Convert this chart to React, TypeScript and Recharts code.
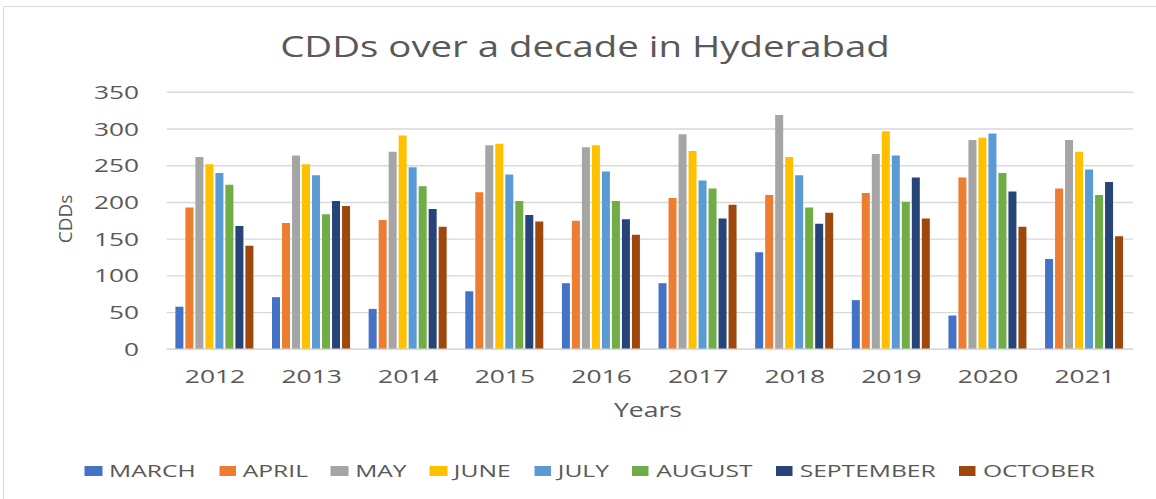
import React from 'react';
import { BarChart, Bar, XAxis, YAxis, CartesianGrid, Legend } from 'recharts';

const years = ['2012', '2013', '2014', '2015', '2016', '2017', '2018', '2019', '2020', '2021'];
const seriesNames = ['MARCH', 'APRIL', 'MAY', 'JUNE', 'JULY', 'AUGUST', 'SEPTEMBER', 'OCTOBER'];
const seriesColors = ['#4472C4', '#ED7D31', '#A5A5A5', '#FFC000', '#5B9BD5', '#70AD47', '#264478', '#9E480E'];

const march = [58, 71, 55, 79, 90, 90, 132, 67, 46, 123];
const april = [193, 172, 176, 214, 175, 206, 210, 213, 234, 219];
const may = [262, 264, 269, 278, 275, 293, 319, 266, 285, 285];
const june = [252, 252, 291, 280, 278, 270, 262, 297, 288, 269];
const july = [240, 237, 248, 238, 242, 230, 237, 264, 294, 245];
const august = [224, 184, 222, 202, 202, 219, 193, 201, 240, 210];
const september = [168, 202, 191, 183, 177, 178, 171, 234, 215, 228];
const october = [141, 195, 167, 174, 156, 197, 186, 178, 167, 154];

const yTicks = [0, 50, 100, 150, 200, 250, 300, 350];
const titleText = 'CDDs over a decade in Hyderabad';
const xAxisTitle = 'Years';
const yAxisTitle = 'CDDs';

const seriesValues = [march, april, may, june, july, august, september, october];

const data = years.map((year, i) => {
  const row: Record<string, string | number> = { year };
  seriesNames.forEach((name, j) => {
    row[name] = seriesValues[j][i];
  });
  return row;
});

const FONT = '"Open Sans", sans-serif';
const TEXT = '#595959';
const GRID = '#d9d9d9';

const YTick = (props: any) => {
  const { x, y, payload } = props;
  return (
    <text
      transform={`translate(${x - 27.7},${y}) scale(1.42,1)`}
      textAnchor="end"
      dy="0.357em"
      fontSize={18.5}
      fontFamily={FONT}
      fill={TEXT}
    >
      {payload.value}
    </text>
  );
};

const XTick = (props: any) => {
  const { x, y, payload } = props;
  return (
    <text
      transform={`translate(${x},${y + 34}) scale(1.43,1)`}
      textAnchor="middle"
      fontSize={18.5}
      fontFamily={FONT}
      fill={TEXT}
    >
      {payload.value}
    </text>
  );
};

const LegendContent = () => (
  <div
    style={{
      display: 'flex',
      justifyContent: 'center',
      alignItems: 'center',
      width: '100%',
      height: 20,
      transform: 'translateX(12px) scaleX(1.5)',
      transformOrigin: '50% 50%',
    }}
  >
    {seriesNames.map((name, i) => (
      <div
        key={name}
        style={{
          display: 'flex',
          alignItems: 'center',
          marginRight: i < seriesNames.length - 1 ? 15.5 : 0,
        }}
      >
        <span
          style={{
            display: 'inline-block',
            width: 11.3,
            height: 10,
            background: seriesColors[i],
            marginRight: 4.7,
          }}
        />
        <span style={{ fontSize: 16.4, lineHeight: '20px', color: TEXT, fontFamily: FONT, whiteSpace: 'nowrap' }}>
          {name}
        </span>
      </div>
    ))}
  </div>
);

export default function App() {
  return (
    <div style={{ position: 'absolute', left: 0, top: 0, width: 1156, height: 499, background: '#fff', overflow: 'hidden' }}>
      <div
        style={{
          position: 'absolute',
          left: 3,
          top: 6,
          width: 1200,
          height: 600,
          borderTop: `1.5px solid ${GRID}`,
          borderLeft: `1.5px solid ${GRID}`,
        }}
      />
      <BarChart
        width={1156}
        height={499}
        data={data}
        margin={{ top: 92.3, right: 23, bottom: 49.7, left: 0 }}
        barCategoryGap="9%"
        barGap={2}
        style={{ position: 'absolute', left: 0, top: 0 }}
      >
        <CartesianGrid vertical={false} stroke={GRID} strokeWidth={1.4} />
        <XAxis
          dataKey="year"
          height={100}
          tick={<XTick />}
          tickLine={false}
          tickSize={0}
          tickMargin={0}
          axisLine={{ stroke: GRID, strokeWidth: 1.4 }}
          interval={0}
        />
        <YAxis
          width={166.7}
          domain={[0, 350]}
          ticks={yTicks}
          tick={<YTick />}
          tickLine={false}
          tickSize={0}
          tickMargin={0}
          axisLine={false}
          interval={0}
        />
        <Legend
          layout="horizontal"
          verticalAlign="middle"
          align="center"
          content={<LegendContent />}
          wrapperStyle={{ top: 460.5, left: 0, width: 1156, height: 20 }}
        />
        {seriesNames.map((name, i) => (
          <Bar key={name} dataKey={name} fill={seriesColors[i]} isAnimationActive={false} />
        ))}
      </BarChart>
      <svg
        width={1156}
        height={499}
        style={{ position: 'absolute', left: 0, top: 0, pointerEvents: 'none' }}
      >
        <text
          transform="translate(585,56.7) scale(1.28,1)"
          textAnchor="middle"
          fontSize={30}
          fontFamily={FONT}
          fill={TEXT}
        >
          {titleText}
        </text>
        <text
          transform="translate(648,417) scale(1.33,1)"
          textAnchor="middle"
          fontSize={20}
          fontFamily={FONT}
          fill={TEXT}
        >
          {xAxisTitle}
        </text>
        <text
          transform="translate(71.7,219) rotate(-90)"
          textAnchor="middle"
          fontSize={19}
          fontFamily={FONT}
          fill={TEXT}
        >
          {yAxisTitle}
        </text>
      </svg>
    </div>
  );
}
